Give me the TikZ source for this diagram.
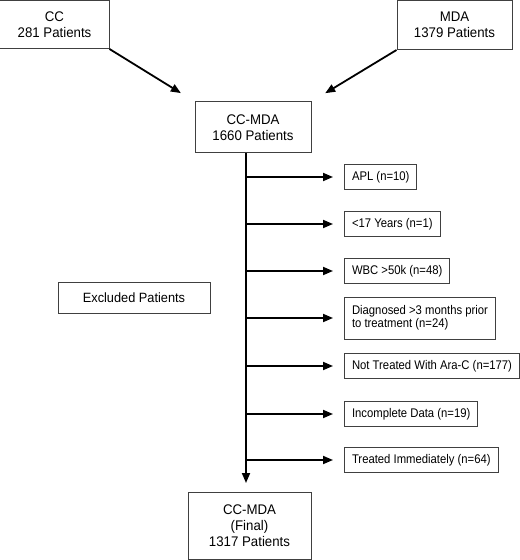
\documentclass[tikz,border=0pt]{standalone}
\usepackage{fontspec}
\setmainfont{Liberation Sans}
\newfontfamily\boxfont[FakeStretch=0.95]{Liberation Sans}
\newfontfamily\exclfont[FakeStretch=0.9]{Liberation Sans}
\usetikzlibrary{arrows.meta}
\tikzset{
  mainbox/.style={draw=black!75, line width=1bp, align=center, inner sep=0pt,
    font=\boxfont\fontsize{14}{16}\selectfont},
  exclbox/.style={draw=black!75, line width=1bp, anchor=west, align=left,
    inner xsep=7.5bp, inner ysep=0pt, minimum height=25bp,
    font=\exclfont\fontsize{12.6}{13}\selectfont},
  arr/.style={line width=1.8bp, -{Triangle[length=10bp,width=8bp]}}
}

\begin{document}
\begin{tikzpicture}[x=1bp,y=-1bp]
			%%%%% START %%%%%
			\useasboundingbox (0,0) rectangle (520,560);
			
			\node[mainbox, minimum width=109bp, minimum height=48bp] (cc) at (54.5,24.5) {CC\\281 Patients};
			\node[mainbox, minimum width=115bp, minimum height=49bp] (mda) at (454.5,25) {MDA\\1379 Patients};
			\node[mainbox, minimum width=116bp, minimum height=51bp] (ccmda) at (253,127.5) {CC-MDA\\1660 Patients};
			\node[mainbox, minimum width=123bp, minimum height=67bp] (final) at (249.5,526) {CC-MDA\\(Final)\\1317 Patients};
			\node[mainbox, minimum width=152bp, minimum height=31bp, font=\boxfont\fontsize{13.5}{16}\selectfont] (excl) at (134,297.5) {Excluded Patients};
			
			\draw[arr, shorten >=16bp] (cc.south east) -- (ccmda.north west);
			\draw[arr, shorten >=16bp] (mda.south west) -- (ccmda.north east);
			
			\node[exclbox] (apl) at (344,177) {APL (n=10)};
			\node[exclbox] (young) at (344,224) {<17 Years (n=1)};
			\node[exclbox] (wbc) at (344,271) {WBC >50k (n=48)};
			\node[exclbox, minimum height=42bp] (diag) at (344,318) {Diagnosed >3 months prior\\to treatment (n=24)};
			\node[exclbox] (noara) at (344,366) {Not Treated With Ara-C (n=177)};
			\node[exclbox] (incomp) at (344,414) {Incomplete Data (n=19)};
			\node[exclbox] (treated) at (344,460) {Treated Immediately (n=64)};
			
			\coordinate (trunk) at ([xshift=-7bp]ccmda.south);
			\draw[arr, shorten >=9bp] (trunk) -- (trunk |- final.north);
			
			\foreach \b in {apl,young,wbc,diag,noara,incomp,treated}
				\draw[arr, shorten >=11bp] (trunk |- \b.west) -- (\b.west);
			
			%%%%% END %%%%%
\end{tikzpicture}
\end{document}
